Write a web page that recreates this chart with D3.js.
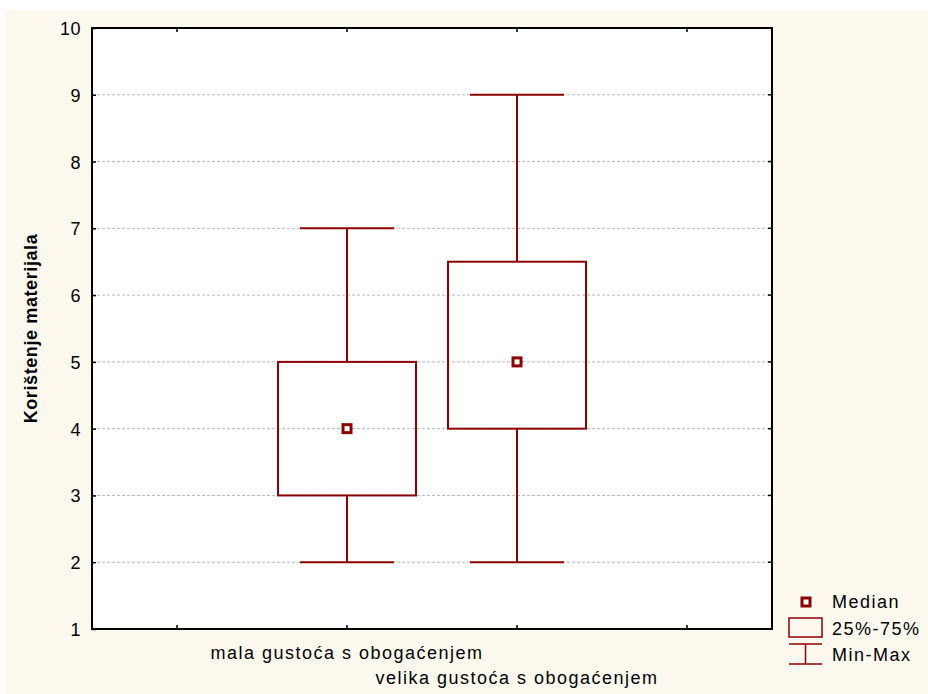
<!DOCTYPE html>
<html><head><meta charset="utf-8">
<script src="https://cdn.jsdelivr.net/npm/d3@7"></script>
<style>
html,body{margin:0;padding:0;background:#fff;}
svg{display:block;font-family:"Liberation Sans",Arial,sans-serif;}
</style></head>
<body>
<svg id="c" width="928" height="694"></svg>
<script>
const categories = ["mala gustoća s obogaćenjem", "velika gustoća s obogaćenjem"];
const minVals = [2, 2];
const q1Vals = [3, 4];
const medianVals = [4, 5];
const q3Vals = [5, 6.5];
const maxVals = [7, 9];
const yTicks = [1,2,3,4,5,6,7,8,9,10];
const legendItems = ["Median", "25%-75%", "Min-Max"];

const red = "#8b0000";
const svg = d3.select("#c");
svg.append("rect").attr("x",5).attr("y",10).attr("width",923).attr("height",684).attr("fill","#fdf9ef");

const L=92, T=28, R=772, B=629;
svg.append("rect").attr("x",L).attr("y",T).attr("width",R-L).attr("height",B-T).attr("fill","#fff");

const y = d3.scaleLinear().domain([1,10]).range([B,T]);
const x = d3.scaleLinear().domain([0,4]).range([L,R]);
const xTickPos = [0.5,1.5,2.5,3.5];
const catPos = [1.5,2.5];

// grid
svg.append("g").selectAll("line").data(yTicks.filter(d=>d>1&&d<10)).join("line")
  .attr("x1",L).attr("x2",R).attr("y1",d=>y(d)).attr("y2",d=>y(d))
  .attr("stroke","#b8b8b8").attr("stroke-width",1).attr("stroke-dasharray","3,2");

// y axis
const ya = svg.append("g").attr("transform",`translate(${L},0)`)
  .call(d3.axisLeft(y).tickValues(yTicks).tickSize(4).tickFormat(d3.format("d")));
ya.select(".domain").remove();
ya.selectAll(".tick line").attr("stroke","#000").attr("x2",4).attr("stroke-width",1.5);
ya.selectAll(".tick text").attr("x",-11).attr("dy","0.36em").attr("font-size",18).attr("letter-spacing","0.5px")
  .attr("font-family","Liberation Sans, Arial, sans-serif").attr("fill","#000");
// right ticks
svg.append("g").selectAll("line").data(yTicks).join("line")
  .attr("x1",R-4).attr("x2",R).attr("y1",d=>y(d)).attr("y2",d=>y(d)).attr("stroke","#000").attr("stroke-width",1.5);
// x ticks bottom/top
svg.append("g").selectAll("line").data(xTickPos).join("line")
  .attr("x1",d=>x(d)).attr("x2",d=>x(d)).attr("y1",B).attr("y2",B-4).attr("stroke","#000").attr("stroke-width",1.5);
svg.append("g").selectAll("line").data(xTickPos).join("line")
  .attr("x1",d=>x(d)).attr("x2",d=>x(d)).attr("y1",T).attr("y2",T+4).attr("stroke","#000").attr("stroke-width",1.5);

// frame
svg.append("rect").attr("x",L).attr("y",T).attr("width",R-L).attr("height",B-T)
  .attr("fill","none").attr("stroke","#000").attr("stroke-width",2);

// boxes
const boxW = 138, capW = 94;
const g = svg.append("g");
categories.forEach((c,i)=>{
  const cx = x(catPos[i]);
  const gg = g.append("g");
  gg.append("line").attr("x1",cx).attr("x2",cx).attr("y1",y(maxVals[i])).attr("y2",y(q3Vals[i])).attr("stroke",red).attr("stroke-width",2);
  gg.append("line").attr("x1",cx).attr("x2",cx).attr("y1",y(q1Vals[i])).attr("y2",y(minVals[i])).attr("stroke",red).attr("stroke-width",2);
  gg.append("line").attr("x1",cx-capW/2).attr("x2",cx+capW/2).attr("y1",y(maxVals[i])).attr("y2",y(maxVals[i])).attr("stroke",red).attr("stroke-width",2);
  gg.append("line").attr("x1",cx-capW/2).attr("x2",cx+capW/2).attr("y1",y(minVals[i])).attr("y2",y(minVals[i])).attr("stroke",red).attr("stroke-width",2);
  gg.append("rect").attr("x",cx-boxW/2).attr("y",y(q3Vals[i])).attr("width",boxW).attr("height",y(q1Vals[i])-y(q3Vals[i]))
    .attr("fill","none").attr("stroke",red).attr("stroke-width",2);
  gg.append("rect").attr("x",cx-4).attr("y",y(medianVals[i])-4).attr("width",8).attr("height",8)
    .attr("fill","#fff").attr("stroke",red).attr("stroke-width",3);
});

// x labels
const labY = [659, 684];
categories.forEach((c,i)=>{
  svg.append("text").attr("x",x(catPos[i])).attr("y",labY[i]).attr("text-anchor","middle")
    .attr("font-size",18).attr("letter-spacing","1.5px").attr("fill","#000").text(c);
});

// y title
svg.append("text").attr("transform",`translate(37,${(T+B)/2}) rotate(-90)`).attr("text-anchor","middle")
  .attr("font-size",18).attr("font-weight","bold").attr("letter-spacing","0.6px").attr("fill","#000").text("Korištenje materijala");

// legend
const lg = svg.append("g");
lg.append("rect").attr("x",802).attr("y",598).attr("width",8).attr("height",8).attr("fill","#fff").attr("stroke",red).attr("stroke-width",3);
lg.append("rect").attr("x",789).attr("y",618).attr("width",33).attr("height",19).attr("fill","none").attr("stroke",red).attr("stroke-width",1.5);
lg.append("line").attr("x1",789).attr("x2",822).attr("y1",644).attr("y2",644).attr("stroke",red).attr("stroke-width",1.5);
lg.append("line").attr("x1",789).attr("x2",822).attr("y1",664).attr("y2",664).attr("stroke",red).attr("stroke-width",1.5);
lg.append("line").attr("x1",805.5).attr("x2",805.5).attr("y1",644).attr("y2",664).attr("stroke",red).attr("stroke-width",1.5);
const lgY = [608, 635, 661];
lg.selectAll("text").data(legendItems).join("text").attr("x",832).attr("y",(d,i)=>lgY[i])
  .attr("font-size",18).attr("letter-spacing","1.5px").attr("fill","#000").text(d=>d);
</script>
</body></html>
